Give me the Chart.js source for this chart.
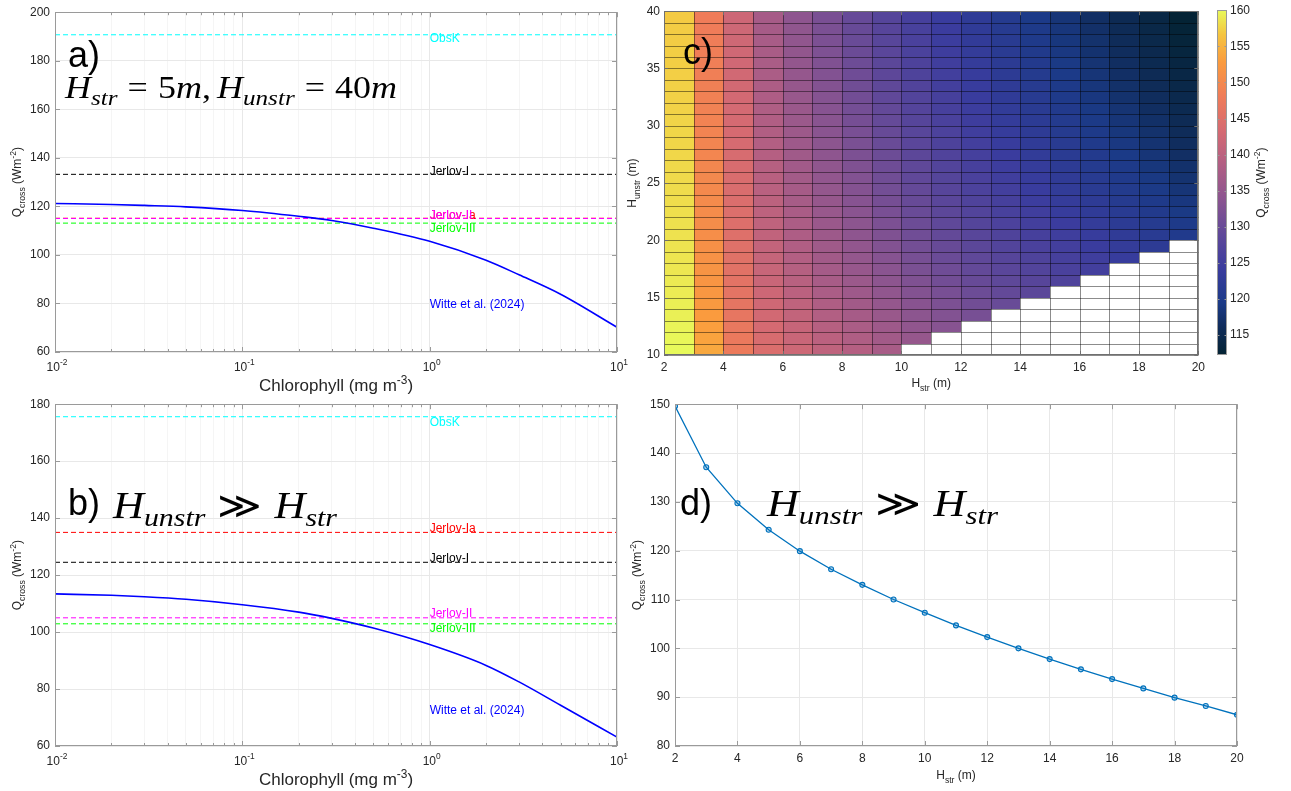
<!DOCTYPE html>
<html>
<head>
<meta charset="utf-8">
<title>Q_cross vs chlorophyll and layer depths</title>
<script src="https://cdn.jsdelivr.net/npm/chart.js@4.4.1/dist/chart.umd.min.js"></script>
<style>
  html, body { margin: 0; padding: 0; background: #fff; }
  #fig { position: relative; width: 1291px; height: 791px; overflow: hidden; background: #fff; }
  .panel { position: absolute; }
  .panel canvas { display: block; }
</style>
</head>
<body>
<div id="fig">
  <div class="panel" style="left:0px;top:0px;width:640px;height:395px;"><canvas id="chartA"></canvas></div>
  <div class="panel" style="left:0px;top:392px;width:640px;height:399px;"><canvas id="chartB"></canvas></div>
  <div class="panel" style="left:600px;top:0px;width:610px;height:395px;"><canvas id="chartC"></canvas></div>
  <div class="panel" style="left:1210px;top:0px;width:81px;height:395px;"><canvas id="chartBar"></canvas></div>
  <div class="panel" style="left:620px;top:392px;width:640px;height:399px;"><canvas id="chartD"></canvas></div>
</div>
<script>
const SANS = "'Liberation Sans', Arial, Helvetica, sans-serif";
const SERIF = "'Liberation Serif', 'DejaVu Serif', 'Times New Roman', serif";
const TICK_COLOR = '#262626';
const AXIS_COLOR = '#9a9a9a';
const GRID_MAJOR = '#e8e8e8';
const GRID_MINOR = '#f5f5f5';

// ---- panels a) and b): Q_cross against chlorophyll ----
const chl = [0.01, 0.02, 0.03, 0.05, 0.1, 0.2, 0.3, 0.5, 1, 2, 3, 5, 10];
const qWitteA = [121.2, 120.8, 120.4, 119.8, 118.3, 115.9, 114.2, 111.0, 105.6, 97.8, 91.8, 83.8, 70.2];
const qWitteB = [113.4, 112.9, 112.4, 111.5, 109.6, 107.0, 104.8, 101.4, 95.6, 88.3, 82.5, 74.3, 63.1];
const chlMin = 0.01;
const chlMax = 10;
const chlGrid = [0.01, 0.02, 0.03, 0.04, 0.05, 0.06, 0.07, 0.08, 0.09,
                 0.1, 0.2, 0.3, 0.4, 0.5, 0.6, 0.7, 0.8, 0.9,
                 1, 2, 3, 4, 5, 6, 7, 8, 9, 10];
const chlDecades = [0.01, 0.1, 1, 10];
const chlDecadeExp = ['-2', '-1', '0', '1'];

const refNames = ['ObsK', 'Jerlov-I', 'Jerlov-Ia', 'Jerlov-II', 'Jerlov-III'];
const refColors = ['#00ffff', '#000000', '#ff0000', '#ff00ff', '#00ff00'];
const refQA = [190.7, 133.2, 115.1, 115.0, 113.1];
const refLabelQA = [189.0, 134.3, 116.3, 116.3, 111.0];
const refQB = [175.6, 124.5, 135.0, 105.0, 102.9];
const refLabelQB = [173.6, 125.7, 136.4, 106.4, 101.2];
const witteName = 'Witte et al. (2024)';
const witteLabelQA = 79.6;
const witteLabelQB = 72.4;
const labelChl = 1;

// ---- panel c): Q_cross over H_str (columns) and H_unstr (rows) ----
const hstrCells = [2, 3, 4, 5, 6, 7, 8, 9, 10, 11, 12, 13, 14, 15, 16, 17, 18, 19];
const hunstrCells = [10, 11, 12, 13, 14, 15, 16, 17, 18, 19, 20, 21, 22, 23, 24,
                     25, 26, 27, 28, 29, 30, 31, 32, 33, 34, 35, 36, 37, 38, 39];
const qCross = [
  [160.0,159.8,159.6,159.4,159.3,159.1,159.0,158.8,158.7,158.6,158.5,158.4,158.3,158.2,158.1,158.0,157.9,157.8,157.7,157.7,157.6,157.5,157.4,157.4,157.3,157.2,157.2,157.1,157.1,157.0],
  [154.0,153.6,153.2,152.8,152.5,152.2,151.9,151.7,151.4,151.2,150.9,150.7,150.5,150.3,150.1,150.0,149.8,149.6,149.5,149.3,149.2,149.0,148.9,148.7,148.6,148.5,148.4,148.2,148.1,148.0],
  [147.6,147.3,146.9,146.6,146.3,146.0,145.8,145.5,145.3,145.1,144.9,144.7,144.5,144.3,144.1,144.0,143.8,143.7,143.5,143.4,143.3,143.1,143.0,142.9,142.8,142.6,142.5,142.4,142.3,142.2],
  [144.3,143.8,143.3,142.9,142.5,142.2,141.8,141.5,141.2,140.9,140.7,140.4,140.2,140.0,139.7,139.5,139.3,139.1,138.9,138.7,138.6,138.4,138.2,138.1,137.9,137.8,137.6,137.5,137.3,137.2],
  [142.3,141.8,141.3,140.8,140.4,139.9,139.6,139.2,138.9,138.6,138.2,138.0,137.7,137.4,137.2,136.9,136.7,136.5,136.3,136.1,135.9,135.7,135.5,135.3,135.1,134.9,134.8,134.6,134.5,134.3],
  [140.5,139.9,139.3,138.8,138.4,137.9,137.5,137.1,136.8,136.4,136.1,135.8,135.5,135.2,135.0,134.7,134.5,134.2,134.0,133.8,133.6,133.4,133.2,133.0,132.8,132.6,132.4,132.2,132.1,131.9],
  [139.1,138.4,137.8,137.3,136.8,136.3,135.9,135.4,135.0,134.7,134.3,134.0,133.7,133.4,133.1,132.8,132.5,132.2,132.0,131.8,131.5,131.3,131.1,130.9,130.7,130.5,130.3,130.1,129.9,129.7],
  [137.5,136.8,136.2,135.6,135.1,134.6,134.1,133.7,133.3,132.9,132.5,132.2,131.8,131.5,131.2,130.9,130.6,130.4,130.1,129.8,129.6,129.4,129.1,128.9,128.7,128.5,128.3,128.1,127.9,127.7],
  [null,135.3,134.6,134.0,133.5,133.0,132.5,132.0,131.6,131.2,130.8,130.4,130.1,129.8,129.5,129.1,128.9,128.6,128.3,128.0,127.8,127.5,127.3,127.1,126.8,126.6,126.4,126.2,126.0,125.8],
  [null,null,133.4,132.8,132.2,131.7,131.1,130.7,130.2,129.8,129.4,129.0,128.6,128.3,127.9,127.6,127.3,127.0,126.7,126.5,126.2,125.9,125.7,125.4,125.2,125.0,124.7,124.5,124.3,124.1],
  [null,null,null,131.6,131.0,130.4,129.9,129.4,128.9,128.5,128.0,127.6,127.3,126.9,126.5,126.2,125.9,125.6,125.3,125.0,124.7,124.4,124.1,123.9,123.7,123.4,123.2,122.9,122.7,122.5],
  [null,null,null,null,130.0,129.4,128.8,128.3,127.8,127.3,126.9,126.5,126.0,125.7,125.3,124.9,124.6,124.2,123.9,123.6,123.3,123.0,122.7,122.5,122.2,122.0,121.7,121.5,121.2,121.0],
  [null,null,null,null,null,128.5,127.9,127.3,126.8,126.3,125.8,125.4,124.9,124.5,124.1,123.7,123.4,123.0,122.7,122.4,122.1,121.7,121.4,121.2,120.9,120.6,120.3,120.1,119.8,119.6],
  [null,null,null,null,null,null,126.9,126.3,125.8,125.3,124.8,124.3,123.8,123.4,123.0,122.6,122.2,121.8,121.5,121.1,120.8,120.5,120.1,119.8,119.6,119.3,119.0,118.7,118.5,118.2],
  [null,null,null,null,null,null,null,125.4,124.8,124.2,123.7,123.2,122.7,122.3,121.8,121.4,121.0,120.6,120.2,119.9,119.5,119.2,118.8,118.5,118.2,117.9,117.6,117.4,117.1,116.8],
  [null,null,null,null,null,null,null,null,123.8,123.2,122.6,122.1,121.6,121.1,120.7,120.2,119.8,119.4,119.0,118.6,118.2,117.9,117.5,117.2,116.9,116.6,116.3,116.0,115.7,115.4],
  [null,null,null,null,null,null,null,null,null,122.2,121.6,121.1,120.5,120.0,119.5,119.1,118.6,118.2,117.8,117.4,117.0,116.6,116.3,115.9,115.6,115.2,114.9,114.6,114.3,114.0],
  [null,null,null,null,null,null,null,null,null,null,120.4,119.8,119.3,118.8,118.2,117.7,117.3,116.8,116.4,116.0,115.6,115.2,114.8,114.4,114.1,113.7,113.4,113.0,112.7,112.4]
];
const cbMin = 112.25;
const cbMax = 160;
const cbTicks = [115, 120, 125, 130, 135, 140, 145, 150, 155, 160];

// ---- panel d): Q_cross for H_unstr >> H_str ----
const hStr = [2, 3, 4, 5, 6, 7, 8, 9, 10, 11, 12, 13, 14, 15, 16, 17, 18, 19, 20];
const qDeep = [149.6, 137.1, 129.7, 124.3, 119.9, 116.2, 113.0, 110.0, 107.3, 104.7,
               102.3, 100.0, 97.8, 95.7, 93.7, 91.8, 89.9, 88.2, 86.4];

// thermal-like colormap (dark navy -> purple -> orange -> yellow)
const thermalStops = [
  [0.00, [4, 35, 51]],
  [0.08, [15, 44, 90]],
  [0.15, [27, 58, 135]],
  [0.25, [58, 60, 158]],
  [0.35, [95, 72, 153]],
  [0.45, [138, 84, 144]],
  [0.55, [176, 94, 132]],
  [0.65, [213, 106, 114]],
  [0.75, [239, 124, 89]],
  [0.85, [250, 155, 62]],
  [0.93, [245, 197, 64]],
  [1.00, [232, 250, 91]]
];

function thermal(f) {
  f = Math.max(0, Math.min(1, f));
  for (let i = 1; i < thermalStops.length; i++) {
    const [p1, c1] = thermalStops[i];
    if (f <= p1) {
      const [p0, c0] = thermalStops[i - 1];
      const t = (f - p0) / (p1 - p0);
      const c = c0.map((v, k) => Math.round(v + (c1[k] - v) * t));
      return 'rgb(' + c.join(',') + ')';
    }
  }
  return 'rgb(232,250,91)';
}

// ---- text helpers ----
const sans = px => px + 'px ' + SANS;
const it = px => 'italic ' + px + 'px ' + SERIF;
const rm = px => px + 'px ' + SERIF;

function measureParts(ctx, parts) {
  let w = 0;
  parts.forEach(p => {
    if (p.gap) {
      p.w = p.gap;
    } else {
      ctx.font = p.font;
      p.w = ctx.measureText(p.t).width;
    }
    w += p.w;
  });
  return w;
}

// draws text runs with sub/superscripts; optional target width stretches it horizontally
function drawRich(ctx, parts, x, y, align, angle, color, width) {
  ctx.save();
  ctx.translate(x, y);
  if (angle) ctx.rotate(angle);
  const w = measureParts(ctx, parts);
  if (width) {
    ctx.scale(width / w, 1);
  }
  let cx = align === 'center' ? -w / 2 : (align === 'right' ? -w : 0);
  ctx.textAlign = 'left';
  ctx.textBaseline = 'alphabetic';
  parts.forEach(p => {
    if (!p.gap) {
      ctx.font = p.font;
      ctx.fillStyle = p.color || color || '#000';
      ctx.fillText(p.t, cx, p.dy || 0);
    }
    cx += p.w;
  });
  ctx.restore();
}

function qLabel(px) {
  const s = px * 0.72;
  return [
    { t: 'Q', font: sans(px) },
    { t: 'cross', font: sans(s), dy: px * 0.3 },
    { t: ' (Wm', font: sans(px) },
    { t: '-2', font: sans(s), dy: -px * 0.42 },
    { t: ')', font: sans(px) }
  ];
}

function hLabel(sub, px) {
  return [
    { t: 'H', font: sans(px) },
    { t: sub, font: sans(px * 0.72), dy: px * 0.3 },
    { t: ' (m)', font: sans(px) }
  ];
}

function chlLabel(px) {
  return [
    { t: 'Chlorophyll (mg m', font: sans(px) },
    { t: '-3', font: sans(px * 0.7), dy: -px * 0.42 },
    { t: ')', font: sans(px) }
  ];
}

function pow10(exp, px) {
  return [{ t: '10', font: sans(px) }, { t: exp, font: sans(px * 0.7), dy: -px * 0.45 }];
}

function mathA(F) {
  const s = F * 0.7, d = F * 0.22, g = F * 0.28;
  return [
    { t: 'H', font: it(F) }, { t: 'str', font: it(s), dy: d }, { gap: g },
    { t: '=', font: rm(F) }, { gap: g },
    { t: '5', font: rm(F) }, { t: 'm', font: it(F) }, { t: ',', font: rm(F) }, { gap: F * 0.17 },
    { t: 'H', font: it(F) }, { t: 'unstr', font: it(s), dy: d }, { gap: g },
    { t: '=', font: rm(F) }, { gap: g },
    { t: '40', font: rm(F) }, { t: 'm', font: it(F) }
  ];
}

function mathGG(F) {
  const s = F * 0.7, d = F * 0.22, g = F * 0.28;
  return [
    { t: 'H', font: it(F) }, { t: 'unstr', font: it(s), dy: d }, { gap: g },
    { t: '\u226B', font: rm(F) }, { gap: g },
    { t: 'H', font: it(F) }, { t: 'str', font: it(s), dy: d }
  ];
}

// axis box plus inward tick marks, like a boxed MATLAB axes
function drawFrame(chart, color, majorLen, minorLen) {
  const { ctx, chartArea: a, scales } = chart;
  ctx.save();
  ctx.strokeStyle = color;
  ctx.lineWidth = 1;
  ctx.beginPath();
  scales.x.ticks.forEach(t => {
    const len = t.major === false ? minorLen : majorLen;
    const px = Math.round(scales.x.getPixelForValue(t.value)) + 0.5;
    ctx.moveTo(px, a.bottom); ctx.lineTo(px, a.bottom - len);
    ctx.moveTo(px, a.top); ctx.lineTo(px, a.top + len);
  });
  scales.y.ticks.forEach(t => {
    const py = Math.round(scales.y.getPixelForValue(t.value)) + 0.5;
    ctx.moveTo(a.left, py); ctx.lineTo(a.left + majorLen, py);
    ctx.moveTo(a.right, py); ctx.lineTo(a.right - majorLen, py);
  });
  ctx.stroke();
  ctx.strokeRect(Math.round(a.left) + 0.5, Math.round(a.top) + 0.5,
                 Math.round(a.right - a.left) - 1, Math.round(a.bottom - a.top) - 1);
  ctx.restore();
}

const noInteraction = {
  responsive: true,
  maintainAspectRatio: false,
  animation: false,
  events: [],
  plugins: { legend: { display: false }, tooltip: { enabled: false } }
};

// ---- panels a) and b) ----
function chlPanel(id, cfg) {
  const datasets = [{
    data: chl.map((c, i) => ({ x: c, y: cfg.witte[i] })),
    borderColor: '#0000ff',
    borderWidth: 1.6,
    pointRadius: 0,
    cubicInterpolationMode: 'monotone'
  }];
  [3, 2, 4, 1, 0].forEach(k => datasets.push({
    data: [{ x: chlMin, y: cfg.ref[k] }, { x: chlMax, y: cfg.ref[k] }],
    borderColor: refColors[k],
    borderWidth: 1,
    borderDash: [5, 3],
    pointRadius: 0
  }));

  const textPlugin = {
    id: 'chlText',
    afterDraw(chart) {
      const { ctx, chartArea: a, scales: { x, y } } = chart;
      drawFrame(chart, AXIS_COLOR, 5, 3);

      chlDecades.forEach((v, i) => {
        drawRich(ctx, pow10(chlDecadeExp[i], 12), x.getPixelForValue(v) + 2, a.bottom + 18.5, 'center', 0, TICK_COLOR);
      });
      drawRich(ctx, chlLabel(17), (a.left + a.right) / 2, a.bottom + 39, 'center', 0, TICK_COLOR);
      drawRich(ctx, qLabel(12), a.left - 34, (a.top + a.bottom) / 2, 'center', -Math.PI / 2, TICK_COLOR);

      ctx.save();
      ctx.font = sans(12);
      ctx.textAlign = 'left';
      ctx.textBaseline = 'middle';
      [0, 1, 2, 3, 4].forEach(k => {
        ctx.fillStyle = refColors[k];
        ctx.fillText(refNames[k], x.getPixelForValue(labelChl), y.getPixelForValue(cfg.refLabel[k]));
      });
      ctx.fillStyle = '#0000ff';
      ctx.fillText(witteName, x.getPixelForValue(labelChl), y.getPixelForValue(cfg.witteLabel));

      ctx.fillStyle = '#000';
      ctx.font = sans(36);
      ctx.textBaseline = 'alphabetic';
      ctx.fillText(cfg.letter, a.left + 13, a.top + cfg.letterBase);
      ctx.restore();

      drawRich(ctx, cfg.math(cfg.mathSize), a.left + cfg.mathX, a.top + cfg.mathBase, 'left', 0, '#000', cfg.mathWidth);
    }
  };

  return new Chart(document.getElementById(id), {
    type: 'line',
    data: { datasets },
    options: {
      ...noInteraction,
      layout: { padding: { top: cfg.padTop, right: 23, left: 0, bottom: 0 } },
      scales: {
        x: {
          type: 'logarithmic',
          min: chlMin,
          max: chlMax,
          afterBuildTicks: s => { s.ticks = chlGrid.map(v => ({ value: v, major: chlDecades.includes(v) })); },
          afterFit: s => { s.height = cfg.xHeight; },
          ticks: { display: false, autoSkip: false },
          grid: { drawTicks: false, color: c => (c.tick && c.tick.major) ? GRID_MAJOR : GRID_MINOR },
          border: { display: false }
        },
        y: {
          min: cfg.yMin,
          max: cfg.yMax,
          ticks: { stepSize: 20, color: TICK_COLOR, font: { family: SANS, size: 12 }, padding: 5 },
          grid: { drawTicks: false, color: GRID_MAJOR },
          afterFit: s => { s.width = 55; },
          border: { display: false }
        }
      }
    },
    plugins: [textPlugin]
  });
}

chlPanel('chartA', {
  witte: qWitteA, ref: refQA, refLabel: refLabelQA, witteLabel: witteLabelQA,
  yMin: 60, yMax: 200, padTop: 8, xHeight: 43,
  letter: 'a)', letterBase: 55,
  math: mathA, mathSize: 31, mathWidth: 332, mathX: 10, mathBase: 86
});

chlPanel('chartB', {
  witte: qWitteB, ref: refQB, refLabel: refLabelQB, witteLabel: witteLabelQB,
  yMin: 60, yMax: 180, padTop: 9, xHeight: 45,
  letter: 'b)', letterBase: 111,
  math: mathGG, mathSize: 37, mathWidth: 224, mathX: 58, mathBase: 114
});

// ---- panel c) ----
const heatCells = [];
hstrCells.forEach((h, i) => {
  hunstrCells.forEach((u, j) => {
    heatCells.push({ x: h + 0.5, y: u + 0.5, h: h, u: u, q: qCross[i][j] });
  });
});

const heatPlugin = {
  id: 'heat',
  beforeDatasetsDraw(chart) {
    const { ctx, scales: { x, y } } = chart;
    ctx.save();
    chart.data.datasets[0].data.forEach(d => {
      if (d.q === null) return;
      const x0 = Math.round(x.getPixelForValue(d.h));
      const x1 = Math.round(x.getPixelForValue(d.h + 1));
      const y0 = Math.round(y.getPixelForValue(d.u + 1));
      const y1 = Math.round(y.getPixelForValue(d.u));
      ctx.fillStyle = thermal((d.q - cbMin) / (cbMax - cbMin));
      ctx.fillRect(x0, y0, x1 - x0, y1 - y0);
    });
    // cell edges
    const hEdges = hstrCells.concat([hstrCells[hstrCells.length - 1] + 1]);
    const uEdges = hunstrCells.concat([hunstrCells[hunstrCells.length - 1] + 1]);
    const top = y.getPixelForValue(uEdges[uEdges.length - 1]);
    const bottom = y.getPixelForValue(uEdges[0]);
    const left = x.getPixelForValue(hEdges[0]);
    const right = x.getPixelForValue(hEdges[hEdges.length - 1]);
    ctx.strokeStyle = 'rgba(0,0,0,0.45)';
    ctx.lineWidth = 1;
    ctx.beginPath();
    hEdges.forEach(h => {
      const px = Math.round(x.getPixelForValue(h)) + 0.5;
      ctx.moveTo(px, top); ctx.lineTo(px, bottom);
    });
    uEdges.forEach(u => {
      const py = Math.round(y.getPixelForValue(u)) + 0.5;
      ctx.moveTo(left, py); ctx.lineTo(right, py);
    });
    ctx.stroke();
    ctx.restore();
  },
  afterDraw(chart) {
    const { ctx, chartArea: a } = chart;
    drawFrame(chart, '#707070', 4, 4);
    drawRich(ctx, hLabel('str', 12), (a.left + a.right) / 2, a.bottom + 32, 'center', 0, TICK_COLOR);
    drawRich(ctx, hLabel('unstr', 12), a.left - 28, (a.top + a.bottom) / 2, 'center', -Math.PI / 2, TICK_COLOR);
    ctx.save();
    ctx.fillStyle = '#000';
    ctx.font = sans(36);
    ctx.fillText('c)', a.left + 19, a.top + 53);
    ctx.restore();
  }
};

new Chart(document.getElementById('chartC'), {
  type: 'scatter',
  data: { datasets: [{ data: heatCells, pointRadius: 0 }] },
  options: {
    ...noInteraction,
    layout: { padding: { top: 7, right: 5, left: 0, bottom: 0 } },
    scales: {
      x: {
        type: 'linear', min: 2, max: 20,
        ticks: { stepSize: 2, color: TICK_COLOR, font: { family: SANS, size: 12 }, padding: 5 },
        grid: { display: false, drawTicks: false },
        afterFit: s => { s.height = 40; },
        border: { display: false }
      },
      y: {
        type: 'linear', min: 10, max: 40,
        ticks: { stepSize: 5, color: TICK_COLOR, font: { family: SANS, size: 12 }, padding: 4 },
        grid: { display: false, drawTicks: false },
        afterFit: s => { s.width = 64; },
        border: { display: false }
      }
    }
  },
  plugins: [heatPlugin]
});

// ---- colorbar ----
const colorbarPlugin = {
  id: 'colorbar',
  beforeDatasetsDraw(chart) {
    const { ctx, chartArea: a, scales: { y } } = chart;
    const y0 = y.getPixelForValue(cbMin);
    const y1 = y.getPixelForValue(cbMax);
    const grad = ctx.createLinearGradient(0, y0, 0, y1);
    thermalStops.forEach(([p]) => grad.addColorStop(p, thermal(p)));
    ctx.save();
    ctx.fillStyle = grad;
    ctx.fillRect(a.left, y1, a.right - a.left, y0 - y1);
    ctx.restore();
  },
  afterDraw(chart) {
    const { ctx, chartArea: a, scales: { y } } = chart;
    ctx.save();
    ctx.strokeStyle = AXIS_COLOR;
    ctx.lineWidth = 1;
    ctx.beginPath();
    y.ticks.forEach(t => {
      const py = Math.round(y.getPixelForValue(t.value)) + 0.5;
      ctx.moveTo(a.left, py); ctx.lineTo(a.left + 2.5, py);
      ctx.moveTo(a.right, py); ctx.lineTo(a.right - 2.5, py);
    });
    ctx.stroke();
    ctx.strokeRect(Math.round(a.left) + 0.5, Math.round(a.top) + 0.5,
                   Math.round(a.right - a.left) - 1, Math.round(a.bottom - a.top) - 1);
    ctx.restore();
    drawRich(ctx, qLabel(12), a.right + 38, (a.top + a.bottom) / 2, 'center', -Math.PI / 2, TICK_COLOR);
  }
};

new Chart(document.getElementById('chartBar'), {
  type: 'scatter',
  data: { datasets: [] },
  options: {
    ...noInteraction,
    layout: { padding: { top: 8, right: 0, left: 7, bottom: 40 } },
    scales: {
      x: { display: false, min: 0, max: 1 },
      y: {
        position: 'right',
        min: cbMin, max: cbMax,
        afterBuildTicks: s => { s.ticks = cbTicks.map(v => ({ value: v })); },
        ticks: { color: TICK_COLOR, font: { family: SANS, size: 12 }, padding: 3, autoSkip: false },
        grid: { display: false, drawTicks: false },
        afterFit: s => { s.width = 64; },
        border: { display: false }
      }
    }
  },
  plugins: [colorbarPlugin]
});

// ---- panel d) ----
const deepText = {
  id: 'deepText',
  afterDraw(chart) {
    const { ctx, chartArea: a } = chart;
    drawFrame(chart, AXIS_COLOR, 5, 5);
    drawRich(ctx, hLabel('str', 12), (a.left + a.right) / 2, a.bottom + 33, 'center', 0, TICK_COLOR);
    drawRich(ctx, qLabel(12), a.left - 34, (a.top + a.bottom) / 2, 'center', -Math.PI / 2, TICK_COLOR);
    ctx.save();
    ctx.fillStyle = '#000';
    ctx.font = sans(36);
    ctx.fillText('d)', a.left + 5, a.top + 111);
    ctx.restore();
    drawRich(ctx, mathGG(37), a.left + 92, a.top + 112, 'left', 0, '#000', 231);
  }
};

new Chart(document.getElementById('chartD'), {
  type: 'line',
  data: {
    datasets: [{
      data: hStr.map((h, i) => ({ x: h, y: qDeep[i] })),
      borderColor: '#0072bd',
      borderWidth: 1.3,
      pointStyle: 'circle',
      pointRadius: 2.5,
      pointBorderWidth: 1.1,
      pointBorderColor: '#0072bd',
      pointBackgroundColor: 'rgba(0,114,189,0.3)',
      tension: 0
    }]
  },
  options: {
    ...noInteraction,
    layout: { padding: { top: 9, right: 23, left: 0, bottom: 0 } },
    scales: {
      x: {
        type: 'linear', min: 2, max: 20,
        ticks: { stepSize: 2, color: TICK_COLOR, font: { family: SANS, size: 12 }, padding: 5 },
        grid: { drawTicks: false, color: GRID_MAJOR },
        afterFit: s => { s.height = 45; },
        border: { display: false }
      },
      y: {
        min: 80, max: 150,
        ticks: { stepSize: 10, color: TICK_COLOR, font: { family: SANS, size: 12 }, padding: 5 },
        grid: { drawTicks: false, color: GRID_MAJOR },
        afterFit: s => { s.width = 55; },
        border: { display: false }
      }
    }
  },
  plugins: [deepText]
});
</script>
</body>
</html>
